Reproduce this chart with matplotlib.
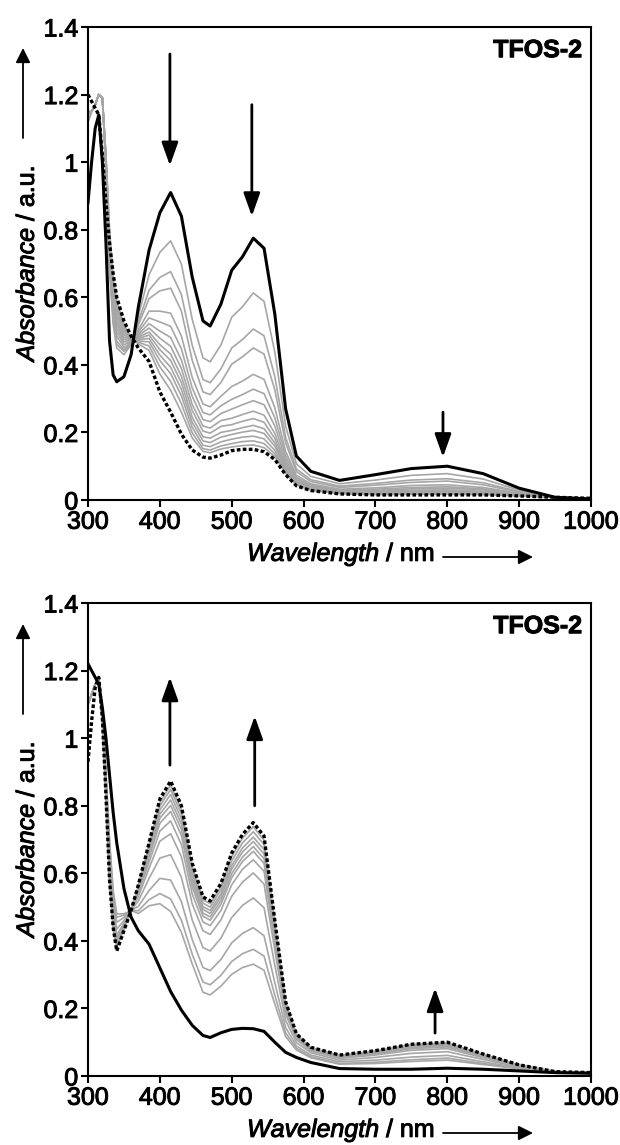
import matplotlib
matplotlib.use("Agg")
import matplotlib.pyplot as plt
from matplotlib.patches import FancyArrowPatch
import matplotlib.patheffects as pe

plt.rcParams['font.family'] = ['Liberation Sans', 'DejaVu Sans']
plt.rcParams['mathtext.fontset'] = 'custom'
plt.rcParams['mathtext.it'] = 'Liberation Sans:italic'
plt.rcParams['mathtext.rm'] = 'Liberation Sans'

# wavelength grid (nm) shared by every trace
wl = [300, 305, 310, 315, 320, 325, 330, 335, 340, 350, 360, 370, 385, 400, 415, 430, 445,
      460, 470, 485, 500, 515, 530, 545, 560, 575, 590, 610, 650, 700, 750, 800, 850, 900, 950, 1000]

# ---- upper panel (bleaching) ----
top_start = [0.88, 1.00, 1.10, 1.14, 1.00, 0.76, 0.47, 0.37, 0.35, 0.365, 0.43, 0.57, 0.74, 0.85, 0.91, 0.84, 0.66,
             0.53, 0.515, 0.58, 0.68, 0.72, 0.775, 0.745, 0.55, 0.27, 0.13, 0.085, 0.058, 0.075, 0.093, 0.10, 0.078, 0.035, 0.008, 0.003]
top_end = [1.20, 1.18, 1.16, 1.14, 1.02, 0.88, 0.76, 0.67, 0.60, 0.53, 0.485, 0.45, 0.41, 0.32, 0.26, 0.195, 0.148,
           0.127, 0.124, 0.133, 0.146, 0.150, 0.150, 0.143, 0.120, 0.075, 0.042, 0.028, 0.018, 0.015, 0.015, 0.015, 0.015, 0.012, 0.008, 0.005]
top_grey = [
    [1.15, 1.15, 1.17, 1.20, 1.19, 0.98, 0.68, 0.52, 0.45, 0.43, 0.46, 0.544, 0.667, 0.733, 0.767, 0.698, 0.535, 0.421, 0.409, 0.459, 0.541, 0.572, 0.613, 0.588, 0.438, 0.219, 0.107, 0.070, 0.048, 0.059, 0.073, 0.078, 0.062, 0.029, 0.008, 0.004],
    [1.15, 1.15, 1.17, 1.20, 1.19, 0.98, 0.69, 0.53, 0.46, 0.44, 0.46, 0.527, 0.621, 0.659, 0.676, 0.608, 0.458, 0.357, 0.347, 0.388, 0.450, 0.475, 0.506, 0.486, 0.365, 0.186, 0.092, 0.060, 0.041, 0.049, 0.059, 0.063, 0.051, 0.025, 0.008, 0.004],
    [1.15, 1.15, 1.17, 1.20, 1.19, 0.99, 0.70, 0.54, 0.47, 0.445, 0.463, 0.518, 0.596, 0.619, 0.627, 0.559, 0.414, 0.320, 0.312, 0.348, 0.402, 0.424, 0.450, 0.432, 0.326, 0.169, 0.084, 0.055, 0.037, 0.044, 0.052, 0.056, 0.045, 0.023, 0.008, 0.004],
    [1.14, 1.15, 1.17, 1.20, 1.19, 0.99, 0.71, 0.555, 0.485, 0.452, 0.465, 0.504, 0.559, 0.559, 0.553, 0.485, 0.363, 0.284, 0.276, 0.307, 0.336, 0.352, 0.372, 0.357, 0.273, 0.144, 0.073, 0.048, 0.032, 0.036, 0.043, 0.045, 0.037, 0.020, 0.008, 0.004],
    [1.14, 1.15, 1.17, 1.20, 1.19, 0.99, 0.72, 0.567, 0.497, 0.46, 0.467, 0.497, 0.539, 0.527, 0.514, 0.447, 0.332, 0.259, 0.252, 0.279, 0.298, 0.312, 0.328, 0.315, 0.243, 0.131, 0.067, 0.044, 0.029, 0.032, 0.037, 0.039, 0.033, 0.019, 0.008, 0.004],
    [1.14, 1.15, 1.17, 1.20, 1.19, 1.00, 0.73, 0.578, 0.508, 0.468, 0.468, 0.491, 0.522, 0.500, 0.481, 0.414, 0.307, 0.238, 0.232, 0.256, 0.269, 0.282, 0.294, 0.282, 0.219, 0.120, 0.062, 0.041, 0.027, 0.029, 0.033, 0.035, 0.030, 0.017, 0.008, 0.004],
    [1.14, 1.15, 1.17, 1.20, 1.19, 1.00, 0.74, 0.59, 0.52, 0.475, 0.47, 0.486, 0.509, 0.479, 0.455, 0.389, 0.283, 0.219, 0.213, 0.235, 0.242, 0.253, 0.263, 0.251, 0.197, 0.110, 0.058, 0.038, 0.025, 0.026, 0.029, 0.030, 0.026, 0.016, 0.008, 0.004],
    [1.13, 1.15, 1.17, 1.20, 1.19, 1.00, 0.75, 0.60, 0.53, 0.482, 0.472, 0.482, 0.497, 0.460, 0.432, 0.366, 0.265, 0.204, 0.198, 0.218, 0.223, 0.233, 0.241, 0.230, 0.182, 0.103, 0.055, 0.036, 0.024, 0.024, 0.026, 0.027, 0.024, 0.015, 0.008, 0.004],
    [1.13, 1.15, 1.17, 1.20, 1.19, 1.01, 0.76, 0.613, 0.543, 0.49, 0.473, 0.478, 0.488, 0.445, 0.413, 0.347, 0.245, 0.187, 0.183, 0.200, 0.206, 0.214, 0.221, 0.211, 0.169, 0.097, 0.052, 0.034, 0.023, 0.022, 0.024, 0.025, 0.022, 0.015, 0.008, 0.004],
    [1.13, 1.15, 1.17, 1.20, 1.19, 1.01, 0.77, 0.625, 0.555, 0.498, 0.475, 0.475, 0.478, 0.429, 0.393, 0.327, 0.230, 0.175, 0.170, 0.186, 0.194, 0.201, 0.206, 0.197, 0.159, 0.093, 0.050, 0.033, 0.022, 0.020, 0.022, 0.023, 0.021, 0.014, 0.008, 0.004],
    [1.12, 1.15, 1.17, 1.20, 1.19, 1.01, 0.78, 0.637, 0.567, 0.505, 0.477, 0.471, 0.468, 0.413, 0.374, 0.308, 0.215, 0.162, 0.158, 0.172, 0.180, 0.186, 0.189, 0.181, 0.147, 0.087, 0.048, 0.032, 0.021, 0.019, 0.020, 0.020, 0.019, 0.013, 0.008, 0.004],
    [1.12, 1.15, 1.17, 1.20, 1.19, 1.02, 0.79, 0.648, 0.578, 0.512, 0.478, 0.467, 0.456, 0.394, 0.351, 0.285, 0.199, 0.152, 0.148, 0.160, 0.167, 0.173, 0.175, 0.167, 0.137, 0.083, 0.046, 0.030, 0.020, 0.017, 0.018, 0.018, 0.018, 0.013, 0.008, 0.004],
    [1.12, 1.15, 1.17, 1.20, 1.19, 1.02, 0.80, 0.66, 0.59, 0.52, 0.48, 0.462, 0.443, 0.373, 0.325, 0.260, 0.184, 0.144, 0.140, 0.151, 0.157, 0.161, 0.163, 0.155, 0.129, 0.079, 0.044, 0.029, 0.019, 0.016, 0.017, 0.017, 0.016, 0.012, 0.008, 0.004],
]

# ---- lower panel (recovery) ----
bot_start = [1.22, 1.20, 1.18, 1.16, 1.09, 1.00, 0.89, 0.78, 0.69, 0.555, 0.47, 0.43, 0.39, 0.32, 0.25, 0.195, 0.15,
             0.12, 0.114, 0.128, 0.138, 0.141, 0.14, 0.132, 0.10, 0.07, 0.055, 0.04, 0.022, 0.02, 0.02, 0.023, 0.02, 0.015, 0.01, 0.008]
bot_end = [0.93, 1.05, 1.15, 1.18, 1.06, 0.83, 0.58, 0.44, 0.37, 0.43, 0.49, 0.565, 0.69, 0.82, 0.873, 0.80, 0.63,
           0.53, 0.518, 0.57, 0.66, 0.715, 0.75, 0.71, 0.46, 0.22, 0.125, 0.085, 0.062, 0.075, 0.094, 0.10, 0.065, 0.033, 0.013, 0.01]
bot_grey = [
    [1.10, 1.13, 1.16, 1.17, 1.05, 0.83, 0.58, 0.44, 0.38, 0.435, 0.49, 0.562, 0.684, 0.810, 0.861, 0.788, 0.620, 0.522, 0.510, 0.561, 0.650, 0.704, 0.738, 0.698, 0.453, 0.217, 0.124, 0.084, 0.061, 0.074, 0.093, 0.098, 0.064, 0.033, 0.013, 0.010],
    [1.10, 1.13, 1.16, 1.17, 1.051, 0.832, 0.584, 0.444, 0.383, 0.436, 0.49, 0.560, 0.678, 0.800, 0.848, 0.776, 0.611, 0.512, 0.500, 0.551, 0.637, 0.690, 0.723, 0.685, 0.444, 0.213, 0.122, 0.083, 0.060, 0.073, 0.091, 0.097, 0.063, 0.032, 0.013, 0.010],
    [1.10, 1.13, 1.16, 1.17, 1.052, 0.835, 0.589, 0.448, 0.388, 0.438, 0.49, 0.556, 0.671, 0.788, 0.833, 0.761, 0.599, 0.501, 0.490, 0.539, 0.623, 0.675, 0.707, 0.670, 0.435, 0.210, 0.120, 0.082, 0.059, 0.071, 0.089, 0.095, 0.062, 0.032, 0.013, 0.010],
    [1.10, 1.13, 1.16, 1.17, 1.054, 0.838, 0.594, 0.453, 0.392, 0.440, 0.49, 0.553, 0.663, 0.775, 0.817, 0.746, 0.587, 0.493, 0.481, 0.530, 0.613, 0.663, 0.694, 0.657, 0.427, 0.206, 0.119, 0.081, 0.058, 0.070, 0.087, 0.093, 0.061, 0.031, 0.013, 0.010],
    [1.10, 1.13, 1.16, 1.17, 1.055, 0.841, 0.599, 0.457, 0.396, 0.442, 0.49, 0.549, 0.656, 0.763, 0.801, 0.730, 0.575, 0.482, 0.471, 0.519, 0.599, 0.648, 0.679, 0.643, 0.418, 0.203, 0.117, 0.080, 0.057, 0.069, 0.085, 0.091, 0.060, 0.031, 0.012, 0.010],
    [1.10, 1.13, 1.16, 1.17, 1.056, 0.845, 0.605, 0.463, 0.401, 0.444, 0.49, 0.545, 0.647, 0.748, 0.783, 0.712, 0.560, 0.473, 0.461, 0.508, 0.587, 0.635, 0.665, 0.629, 0.410, 0.199, 0.115, 0.079, 0.056, 0.067, 0.084, 0.089, 0.059, 0.030, 0.012, 0.010],
    [1.10, 1.13, 1.16, 1.17, 1.058, 0.850, 0.614, 0.471, 0.408, 0.448, 0.49, 0.539, 0.633, 0.725, 0.755, 0.685, 0.539, 0.456, 0.445, 0.490, 0.566, 0.612, 0.640, 0.606, 0.395, 0.193, 0.112, 0.077, 0.055, 0.065, 0.081, 0.086, 0.057, 0.030, 0.012, 0.010],
    [1.10, 1.13, 1.16, 1.17, 1.061, 0.857, 0.626, 0.482, 0.418, 0.452, 0.49, 0.531, 0.615, 0.695, 0.717, 0.649, 0.510, 0.430, 0.419, 0.462, 0.532, 0.574, 0.601, 0.568, 0.372, 0.183, 0.108, 0.074, 0.052, 0.062, 0.076, 0.081, 0.054, 0.029, 0.012, 0.010],
    [1.10, 1.13, 1.16, 1.17, 1.067, 0.869, 0.646, 0.500, 0.435, 0.460, 0.49, 0.518, 0.585, 0.645, 0.655, 0.588, 0.462, 0.380, 0.370, 0.408, 0.469, 0.505, 0.527, 0.498, 0.328, 0.165, 0.099, 0.069, 0.047, 0.055, 0.067, 0.072, 0.049, 0.026, 0.012, 0.009],
    [1.10, 1.13, 1.16, 1.17, 1.073, 0.883, 0.670, 0.523, 0.455, 0.469, 0.49, 0.502, 0.549, 0.585, 0.580, 0.516, 0.404, 0.321, 0.312, 0.345, 0.394, 0.422, 0.439, 0.415, 0.276, 0.144, 0.089, 0.062, 0.042, 0.047, 0.056, 0.061, 0.042, 0.024, 0.011, 0.009],
    [1.10, 1.13, 1.16, 1.17, 1.077, 0.893, 0.688, 0.539, 0.470, 0.476, 0.49, 0.489, 0.522, 0.540, 0.524, 0.461, 0.361, 0.278, 0.270, 0.298, 0.339, 0.362, 0.375, 0.355, 0.239, 0.128, 0.082, 0.057, 0.037, 0.041, 0.048, 0.053, 0.037, 0.022, 0.011, 0.009],
    [1.10, 1.13, 1.16, 1.17, 1.08, 0.90, 0.70, 0.55, 0.48, 0.48, 0.49, 0.481, 0.504, 0.510, 0.487, 0.425, 0.332, 0.248, 0.240, 0.266, 0.301, 0.321, 0.331, 0.313, 0.213, 0.117, 0.077, 0.054, 0.035, 0.037, 0.043, 0.047, 0.034, 0.021, 0.011, 0.009],
]

# trend arrows: (wavelength, tail, head)
top_arrows = [(414, 1.32, 0.99), (528, 1.17, 0.84), (794, 0.26, 0.127)]
bot_arrows = [(414, 0.92, 1.18), (532, 0.80, 1.065), (783, 0.127, 0.26)]

xticks = [300, 400, 500, 600, 700, 800, 900, 1000]
yticks = [0, 0.2, 0.4, 0.6, 0.8, 1.0, 1.2, 1.4]
ytick_labels = ['0', '0.2', '0.4', '0.6', '0.8', '1', '1.2', '1.4']

W, H = 620, 1145
fig = plt.figure(figsize=(W / 100, H / 100), dpi=100)
heavy = [pe.withStroke(linewidth=0.7, foreground='k')]


def fx(px):
    return px / W


def fy(py):
    return 1 - py / H


def panel(top_px, start, end, greys, arrows):
    ax = fig.add_axes([fx(88), fy(top_px + 473), 503 / W, 473 / H])
    for g in greys:
        ax.plot(wl, g, color='#a6a6a6', lw=1.2)
    ax.plot(wl, end, color='k', lw=2.4, ls=(0, (1.1, 0.7)))
    ax.plot(wl, start, color='k', lw=2.2)

    for x, y0, y1 in arrows:
        ax.annotate('', xy=(x, y1), xytext=(x, y0),
                    arrowprops=dict(arrowstyle='-|>,head_length=0.7,head_width=0.25',
                                    lw=2, color='k', mutation_scale=20,
                                    shrinkA=0, shrinkB=0))

    ax.set_xlim(300, 1000)
    ax.set_ylim(0, 1.4)
    ax.set_xticks(xticks)
    ax.set_yticks(yticks)
    ax.set_yticklabels(ytick_labels)
    ax.tick_params(direction='out', length=5, width=1.5, labelsize=18, pad=2)
    for t in ax.get_xticklabels() + ax.get_yticklabels():
        t.set_path_effects(heavy)
    for s in ax.spines.values():
        s.set_linewidth(1.5)
    ax.text(0.982, 0.951, 'TFOS-2', transform=ax.transAxes, ha='right', va='center',
            fontsize=18, fontweight='bold', path_effects=heavy)

    # axis titles with their direction arrows
    fig.text(fx(27), fy(top_px + 236), r'$\mathit{Absorbance}$ / a.u.', rotation=90,
             ha='center', va='center', fontsize=18, path_effects=heavy)
    fig.add_artist(FancyArrowPatch((fx(23), fy(top_px + 111)), (fx(23), fy(top_px + 21)),
                                   transform=fig.transFigure, arrowstyle='-|>', lw=1.3,
                                   color='k', mutation_scale=22, shrinkA=0, shrinkB=0))
    fig.text(fx(341), fy(top_px + 534), r'$\mathit{Wavelength}$ / nm',
             ha='center', va='baseline', fontsize=18, path_effects=heavy)
    fig.add_artist(FancyArrowPatch((fx(443), fy(top_px + 530)), (fx(533), fy(top_px + 530)),
                                   transform=fig.transFigure, arrowstyle='-|>', lw=1.3,
                                   color='k', mutation_scale=22, shrinkA=0, shrinkB=0))
    return ax


panel(27, top_start, top_end, top_grey, top_arrows)
panel(603, bot_start, bot_end, bot_grey, bot_arrows)

fig.savefig('out.png', dpi=100)
